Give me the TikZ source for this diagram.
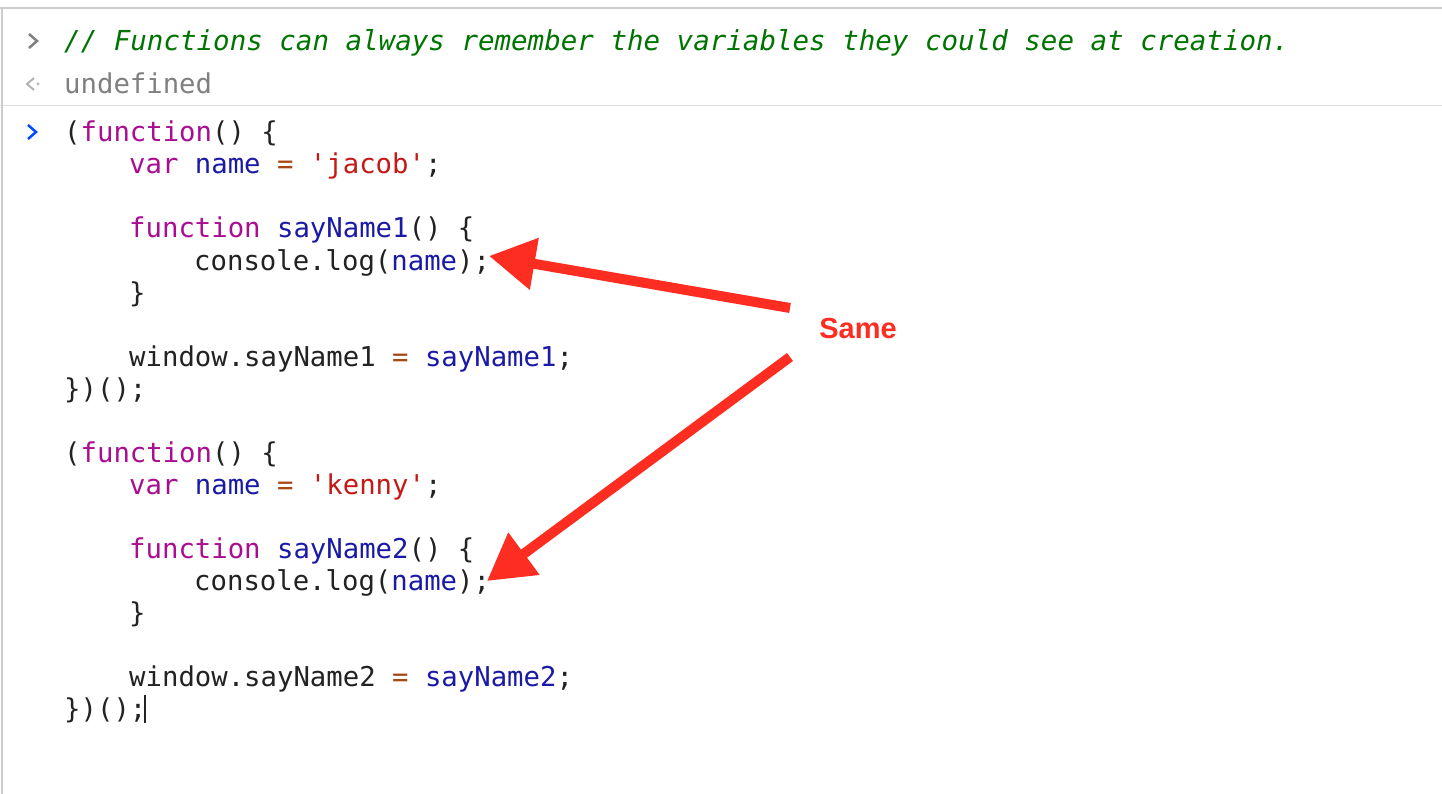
\documentclass[tikz,border=0pt]{standalone}
\usepackage{fontspec}
\setmonofont{DejaVu Sans Mono}
\setsansfont{Liberation Sans}
\usetikzlibrary{arrows.meta}
\definecolor{kw}{RGB}{170,13,145}
\definecolor{nmb}{RGB}{26,26,166}
\definecolor{st}{RGB}{196,26,22}
\definecolor{op}{RGB}{168,72,20}
\definecolor{cm}{RGB}{0,116,0}
\definecolor{tx}{RGB}{34,34,34}
\definecolor{ar}{RGB}{253,45,33}
\tikzset{code/.style={anchor=base west,inner sep=0pt,font=\ttfamily\fontsize{27.3}{27}\selectfont,text=tx},
 arrowline/.style={ar,line width=10pt,-{Triangle[length=46pt,width=50pt]}}}
\newcommand{\K}[1]{\textcolor{kw}{#1}}
\newcommand{\N}[1]{\textcolor{nmb}{#1}}
\newcommand{\Sx}[1]{\textcolor{st}{#1}}
\newcommand{\Ox}[1]{\textcolor{op}{#1}}
\begin{document}
\begin{tikzpicture}[x=1pt,y=-1pt]
\useasboundingbox (0,0) rectangle (1442,794);
\fill[white] (0,0) rectangle (1442,794);
\draw[gray!40,line width=1.5pt] (0,8) -- (1442,8);
\draw[gray!25,line width=1pt] (0,106) -- (1442,106);
\draw[gray!40,line width=1.5pt] (2,8) -- (2,794);
% prompts
\draw[gray,line width=2.5pt] (29,34) -- (37,41) -- (29,48);
\draw[gray!60,line width=2pt] (34,78) -- (27,84) -- (34,90);
\fill[gray!60] (38,84) circle (1.5);
\draw[blue!70!cyan,line width=2.5pt] (28,125) -- (36,132) -- (28,139);
\node[code,text=cm,font=\ttfamily\itshape\fontsize{27.5}{27}\selectfont] (c0) at (64,51) {// Functions can always remember the variables they could see at creation.};
\node[code,text=gray] (c1) at (64,94) {undefined};
\node[code] (l1) at (64,142) {(\K{function}() \{};
\node[code] (l2) at (129,174) {\K{var} \N{name} \Ox{=} \Sx{'jacob'};};
\node[code] (l3) at (129,238) {\K{function} \N{sayName1}() \{};
\node[code] (l4) at (194,270) {console.log(\N{name});};
\node[code] (l5) at (129,302) {\}};
\node[code] (l6) at (129,366) {window.sayName1 \Ox{=} \N{sayName1};};
\node[code] (l7) at (64,398) {\})();};
\node[code] (m1) at (64,462) {(\K{function}() \{};
\node[code] (m2) at (129,494) {\K{var} \N{name} \Ox{=} \Sx{'kenny'};};
\node[code] (m3) at (129,558) {\K{function} \N{sayName2}() \{};
\node[code] (m4) at (194,590) {console.log(\N{name});};
\node[code] (m5) at (129,622) {\}};
\node[code] (m6) at (129,686) {window.sayName2 \Ox{=} \N{sayName2};};
\node[code] (m7) at (64,718) {\})();};
\draw[tx,line width=1.5pt] (145,695) -- (145,723);
\node[font=\sffamily\bfseries\fontsize{29}{29}\selectfont,text=ar,inner sep=0pt] (same) at (858,329) {Same};
\coordinate (s1) at (790,308);
\coordinate (s2) at (790,357);
\coordinate (t1) at (489,256);
\coordinate (t2) at (487,581);
\draw[arrowline] (s1) -- (t1);
\draw[arrowline] (s2) -- (t2);
\end{tikzpicture}
\end{document}
